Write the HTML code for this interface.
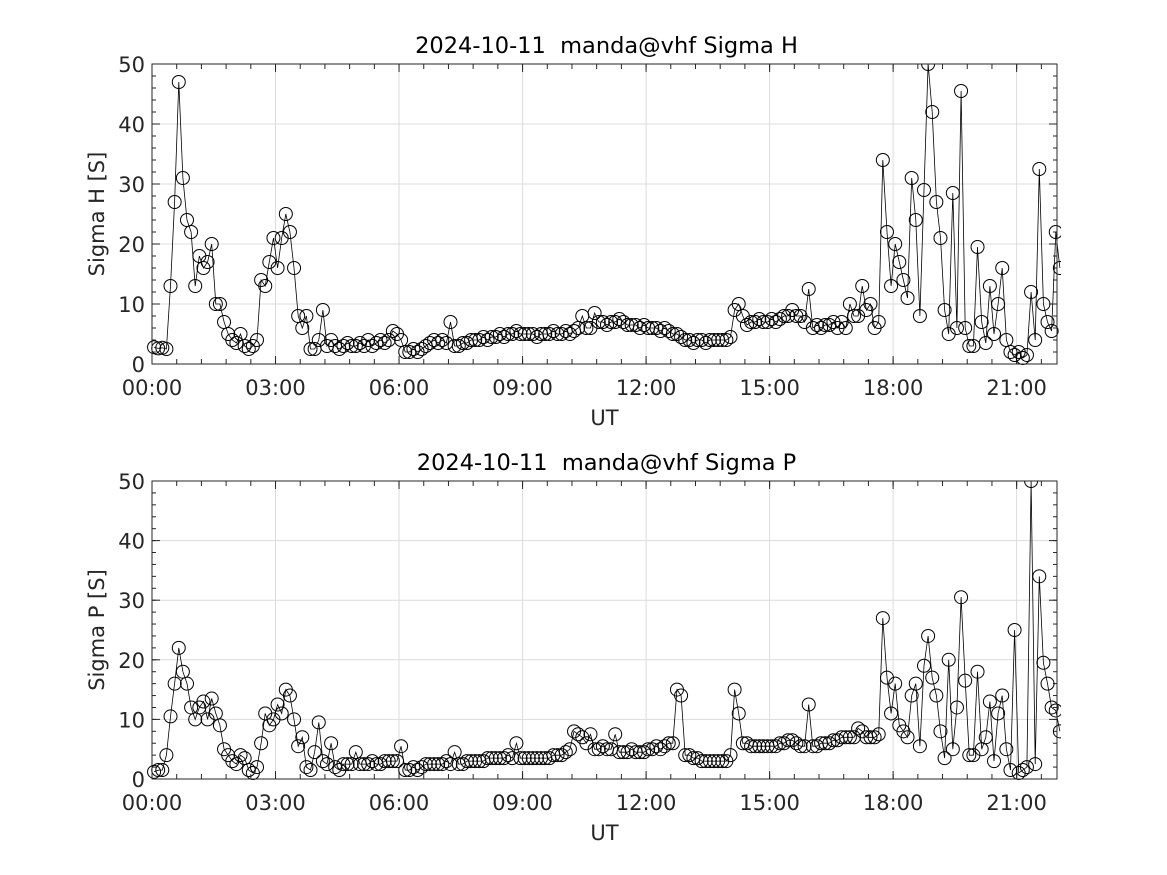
<!DOCTYPE html>
<html><head><meta charset="utf-8"><style>
body{margin:0;background:#fff;}
svg{display:block;font-family:"DejaVu Sans","Liberation Sans",sans-serif;}
text{white-space:pre;}
</style></head><body>
<svg id="fig" width="1167" height="875" viewBox="0 0 1167 875"></svg>
<script>
const sigmaH=[2.8,2.6,2.7,2.5,13,27,47,31,24,
22,13,18,16,17,20,10,10,7,5,
4,3.5,5,3,2.5,3,4,14,13,17,
21,16,21,25,22,16,8,6,8,2.5,
2.5,4,9,3,4,3,2.5,3,3.5,3,
3,3.5,3,4,3,3.5,4,3.5,4,5.5,
5,4,2,2,2.5,2,2.5,3,3.5,4,
3.5,4,3.5,7,3,3,3.5,3.5,4,4,
4,4.5,4,4.5,4.5,5,4.5,5,5,5.5,
5,5,5,5,4.5,5,5,5,5.5,5,
5,5.5,5,5.5,6,8,6,6,8.5,7,
7,6.5,7,7,7.5,7,6.5,6.5,6.5,6,
6.5,6,6,6,5.5,6,5.5,5,5,4.5,
4,4,3.5,4,4,3.5,4,4,4,4,
4,4.5,9,10,8,6.5,7,7,7.5,7,
7,7.5,7,7.5,8,8,9,8,8,7,
12.5,6,6.5,6,6.5,6.5,7,6,7,6,
10,8,8,13,9,10,6,7,34,22,
13,20,17,14,11,31,24,8,29,50,
42,27,21,9,5,28.5,6,45.5,6,3,
3,19.5,7,3.5,13,5,10,16,4,2,
1.5,2,1,1.5,12,4,32.5,10,7,5.5,22,16];
const sigmaP=[1.2,1.5,1.5,4,10.5,16,22,18,16,
12,10,12,13,10,13.5,11,9,5,4,
3,2.5,4,3.5,1.5,1,2,6,11,9,
10,12.5,11,15,14,10,5.5,7,2,1.5,
4.5,9.5,3,2.5,6,2,1.5,2.5,2.5,2.5,
4.5,2.5,2.5,2.5,3,2.5,2.5,3,3,3,
3,5.5,1.5,1.5,2,1.5,2,2.5,2.5,2.5,
2.5,2.5,3,2.5,4.5,2.5,2.5,3,3,3,
3,3,3.5,3.5,3.5,3.5,3.5,4,3.5,6,
3.5,3.5,3.5,3.5,3.5,3.5,3.5,3.5,4,4,
4,4.5,5,8,7.5,7,6,7.5,5,5,
5.5,5,5,7.5,4.5,4.5,4.5,5,4.5,4.5,
4.5,5,5,5.5,5,5.5,6,6,15,14,
4,4,3.5,3.5,3,3,3,3,3,3,
3,4,15,11,6,6,5.5,5.5,5.5,5.5,
5.5,5.5,5.5,6,6,6.5,6.5,6,5.5,5.5,
12.5,5.5,5.5,6,6,6,6.5,6.5,7,7,
7,7,8.5,8,7,7,7,7.5,27,17,
11,16,9,8,7,14,16,5.5,19,24,
17,14,8,3.5,20,5,12,30.5,16.5,4,
4,18,5,7,13,3,11,14,5,1.5,
25,1,1.5,2,50,2.5,34,19.5,16,12,11.5,8];
const xTickHours=[0,3,6,9,12,15,18,21];
const xTickLabels=["00:00","03:00","06:00","09:00","12:00","15:00","18:00","21:00"];
const yTicks=[0,10,20,30,40,50];
const sampleStartHour=0.05, sampleStepHour=0.1;

const NS="http://www.w3.org/2000/svg";
const svg=document.getElementById('fig');
function mk(tag,attrs,parent){const e=document.createElementNS(NS,tag);for(const k in attrs)e.setAttribute(k,attrs[k]);(parent||svg).appendChild(e);return e;}
const X0=152,X1=1057,TMAX=21.98;
function panel(vals,top,bottom,title,ylab,key){
  const g=mk('g',{});
  
  
  const xs=t=>X0+(t/TMAX)*(X1-X0);
  const ys=v=>bottom-(v/50)*(bottom-top);
  xTickHours.forEach(h=>{const l=mk('line',{x1:xs(h),x2:xs(h),y1:top,y2:bottom,stroke:'#dcdcdc','stroke-width':1},g);
    });
  yTicks.forEach(v=>{const l=mk('line',{x1:X0,x2:X1,y1:ys(v),y2:ys(v),stroke:'#dcdcdc','stroke-width':1},g);
    });
  for(let h=0;h<=TMAX;h+=0.6){[[bottom,bottom-5],[top,top+5]].forEach(p=>{mk('line',{x1:xs(h),x2:xs(h),y1:p[0],y2:p[1],stroke:'#262626','stroke-width':1},g);});}
  xTickHours.forEach(h=>{[[bottom,bottom-8],[top,top+8]].forEach(p=>{mk('line',{x1:xs(h),x2:xs(h),y1:p[0],y2:p[1],stroke:'#262626','stroke-width':1},g);});});
  for(let v=0;v<=50;v+=2){mk('line',{x1:X0,x2:X0+4,y1:ys(v),y2:ys(v),stroke:'#262626'},g);mk('line',{x1:X1,x2:X1-4,y1:ys(v),y2:ys(v),stroke:'#262626'},g);}
  yTicks.forEach(v=>{mk('line',{x1:X0,x2:X0+8,y1:ys(v),y2:ys(v),stroke:'#262626'},g);mk('line',{x1:X1,x2:X1-8,y1:ys(v),y2:ys(v),stroke:'#262626'},g);});
  const cid='clip-'+key;
  const cp=mk('clipPath',{id:cid},g);mk('rect',{x:X0-8,y:top,width:X1-X0+12,height:bottom-top+10},cp);
  const dg=mk('g',{'clip-path':'url(#'+cid+')'},g);
  const pts=vals.map((v,i)=>[xs(sampleStartHour+i*sampleStepHour),ys(v)]);
  const line=mk('polyline',{points:pts.map(p=>p[0].toFixed(1)+','+p[1].toFixed(1)).join(' '),fill:'none',stroke:'#000','stroke-width':0.8},dg);
  
  
  pts.forEach(p=>{const c=mk('circle',{cx:p[0],cy:p[1],r:6.5,fill:'none',stroke:'#000','stroke-width':1},dg);
    
    });
  const b=mk('rect',{x:X0,y:top,width:X1-X0,height:bottom-top,fill:'none',stroke:'#262626','stroke-width':1},g);
  
  
  xTickHours.forEach((h,i)=>{const t=mk('text',{x:xs(h),y:bottom+31,'text-anchor':'middle','font-size':21,fill:'#262626'},g);t.textContent=xTickLabels[i];
    });
  yTicks.forEach(v=>{const t=mk('text',{x:X0-7,y:ys(v)+8,'text-anchor':'end','font-size':21,fill:'#262626'},g);t.textContent=v;
    });
  const tt=mk('text',{x:(X0+X1)/2+2,y:top-11,'text-anchor':'middle','font-size':22.5,fill:'#000'},g);tt.textContent=title;
  
  const xl=mk('text',{x:(X0+X1)/2,y:bottom+61,'text-anchor':'middle','font-size':21,fill:'#262626'},g);xl.textContent='UT';
  
  const yl=mk('text',{x:0,y:0,'text-anchor':'middle','font-size':21,fill:'#262626',transform:'translate(104,'+((top+bottom)/2)+') rotate(-90)'},g);yl.textContent=ylab;
  
}
panel(sigmaH,64,364,'2024-10-11  manda@vhf Sigma H','Sigma H [S]','sigma-h');
panel(sigmaP,481,779,'2024-10-11  manda@vhf Sigma P','Sigma P [S]','sigma-p');
</script>
</body></html>
